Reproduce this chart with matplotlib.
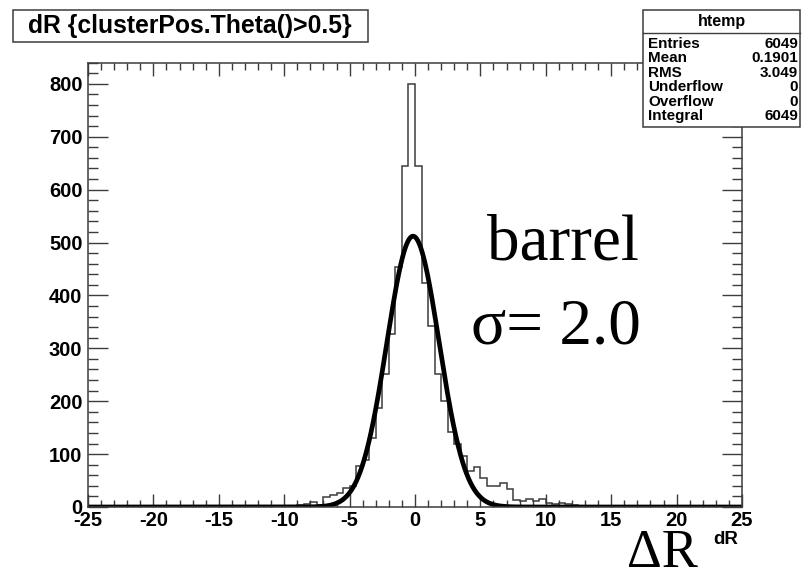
import numpy as np
import matplotlib.pyplot as plt
from matplotlib.patches import Rectangle
from matplotlib.lines import Line2D
from matplotlib.ticker import MultipleLocator

plt.rcParams["axes.unicode_minus"] = False

# histogram range and binning
x_lo, x_hi = -25.0, 25.0
bin_width = 0.5

# entries per 0.5 wide bin, from -25 up to +25
counts = [
    0, 0, 0, 0, 0, 0, 0, 0, 0, 0,
    0, 0, 0, 0, 0, 0, 0, 0, 0, 0,
    0, 0, 0, 0, 0, 0, 0, 0, 1, 1,
    1, 2, 3, 5, 9, 4, 19, 22, 27, 35,
    40, 78, 88, 131, 188, 252, 328, 454, 645, 800,
    645, 424, 343, 252, 201, 141, 119, 97, 68, 75,
    55, 40, 40, 46, 34, 13, 11, 16, 12, 15,
    8, 5, 7, 5, 3, 2, 2, 1, 1, 1,
    1, 2, 1, 1, 0, 0, 0, 0, 0, 0,
    0, 0, 0, 0, 0, 0, 0, 0, 0, 0,
]

# gaussian fit parameters
fit_amp = 512.0
fit_mean = -0.15
fit_sigma = 2.0

# stats box
stat_title = "htemp"
stat_names = ["Entries", "Mean", "RMS", "Underflow", "Overflow", "Integral"]
stat_values = ["6049", "0.1901", "3.049", "0", "0", "6049"]

title = "dR {clusterPos.Theta()>0.5}"

W, H = 804, 580
SANS = "Liberation Sans"
SERIF = "Liberation Serif"
INK = "#3c3c3c"


def fx(px):
    return px / W


def fy(py):
    return 1 - py / H


fig = plt.figure(figsize=(W / 100, H / 100), dpi=100)
ax = fig.add_axes([fx(88), fy(507), (742 - 88) / W, (507 - 62.7) / H])

edges = np.linspace(x_lo, x_hi, len(counts) + 1)
ax.stairs(counts, edges, color=INK, lw=1.1, baseline=0)

xs = np.linspace(x_lo, x_hi, 2001)
ax.plot(xs, fit_amp * np.exp(-0.5 * ((xs - fit_mean) / fit_sigma) ** 2),
        color="black", lw=3.4)

ax.set_xlim(x_lo, x_hi)
ax.set_ylim(0, 1.05 * max(counts))

ax.xaxis.set_major_locator(MultipleLocator(5))
ax.xaxis.set_minor_locator(MultipleLocator(1))
ax.yaxis.set_major_locator(MultipleLocator(100))
ax.yaxis.set_minor_locator(MultipleLocator(20))

for s in ax.spines.values():
    s.set_color(INK)
    s.set_linewidth(1.1)

ax.tick_params(which="both", direction="in", top=True, right=True,
               color=INK, width=1.0)
ax.tick_params(axis="x", which="major", length=9.5, pad=3)
ax.tick_params(axis="x", which="minor", length=4.8)
ax.tick_params(axis="y", which="major", length=14.2, pad=4)
ax.tick_params(axis="y", which="minor", length=7.1)
for lab in ax.get_xticklabels() + ax.get_yticklabels():
    lab.set_fontfamily(SANS)
    lab.set_fontweight("bold")
    lab.set_fontsize(14.5)

# axis title
fig.text(fx(738), fy(540), "dR", ha="right", va="center",
         family=SANS, weight="bold", fontsize=13.5)
fig.text(fx(662), fy(567), "\u0394R", ha="center", va="baseline",
         family=SERIF, fontsize=39)

# annotation on the plot
fig.text(fx(563), fy(260), "barrel", ha="center", va="baseline",
         family=SERIF, fontsize=47)
fig.text(fx(556), fy(343), "\u03c3= 2.0", ha="center", va="baseline",
         family=SERIF, fontsize=47)

# title box
fig.add_artist(Rectangle((fx(13), fy(42)), (368 - 13) / W, (42 - 10) / H,
                         transform=fig.transFigure, fc="white", ec=INK,
                         lw=1.1))
fig.text(fx(28), fy(26.5), title, ha="left", va="center",
         family=SANS, weight="bold", fontsize=17.8)

# stats box
bx0, by0, bx1, by1 = 643, 10, 800, 127
fig.add_artist(Rectangle((fx(bx0), fy(by1)), (bx1 - bx0) / W, (by1 - by0) / H,
                         transform=fig.transFigure, fc="white", ec=INK,
                         lw=1.1, zorder=5))
fig.add_artist(Line2D([fx(bx0), fx(bx1)], [fy(33), fy(33)],
                      transform=fig.transFigure, color=INK, lw=1.0,
                      zorder=6))
fig.text(fx((bx0 + bx1) / 2), fy(21.5), stat_title, ha="center", va="center",
         family=SANS, weight="bold", fontsize=11.5, zorder=7)
for k, (name, val) in enumerate(zip(stat_names, stat_values)):
    yy = fy(44 + k * 14.4)
    fig.text(fx(648), yy, name, ha="left", va="center",
             family=SANS, weight="bold", fontsize=11, zorder=7)
    fig.text(fx(798), yy, val, ha="right", va="center",
             family=SANS, weight="bold", fontsize=11, zorder=7)

fig.savefig("out.png", dpi=100)
